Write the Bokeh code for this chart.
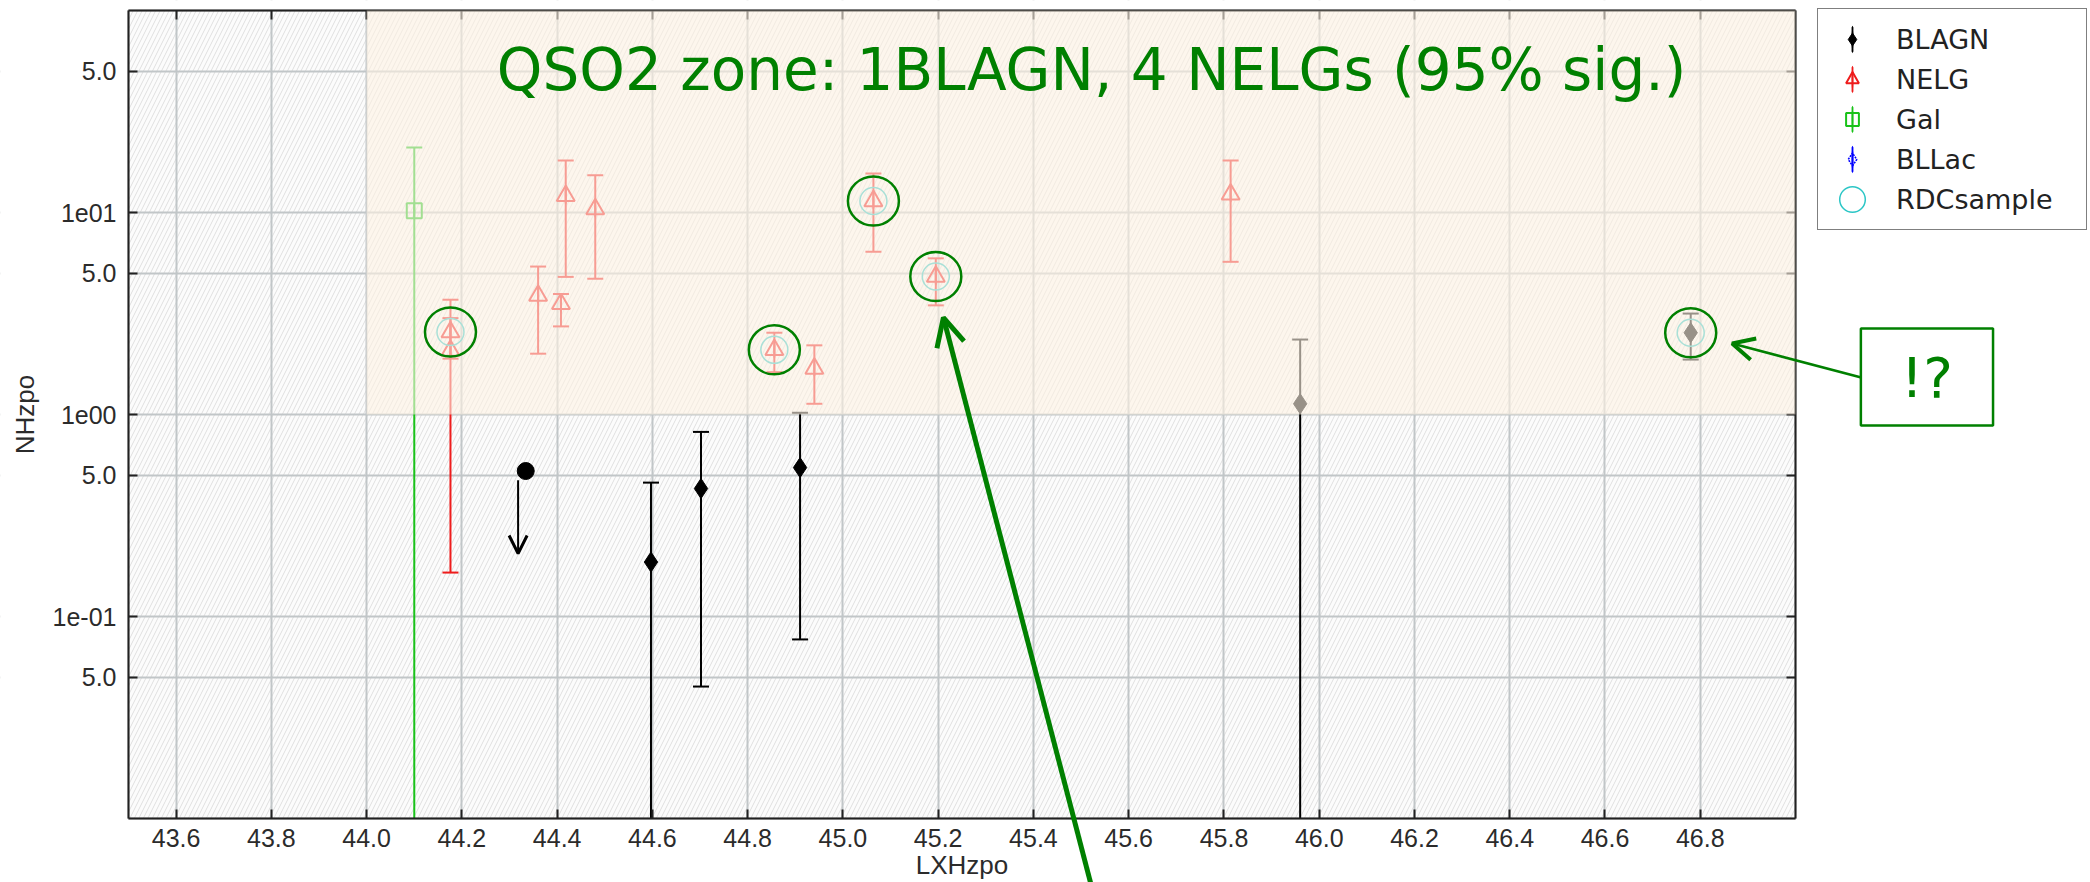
import numpy as np
from bokeh.plotting import figure
from bokeh.models import (Range1d, FixedTicker, PrintfTickFormatter, LinearAxis, LogAxis,
                          BoxAnnotation, Label, Arrow, OpenHead, Legend, LegendItem)
from bokeh.embed import file_html
from bokeh.resources import INLINE

# ---------------------------------------------------------------- data
# BLAGN: log X-ray luminosity, NH (1e22 cm^-2) and its error interval
blagn_lx = [44.597, 44.702, 44.910, 45.960, 46.780]
blagn_nh = [0.186, 0.43, 0.546, 1.13, 2.54]
blagn_lo = [1e-4, 0.045, 0.077, 1e-4, 1.87]
blagn_hi = [0.46, 0.82, 1.02, 2.35, 3.16]

# NELG
nelg_lx = [44.176, 44.176, 44.360, 44.408, 44.418, 44.480, 44.856, 44.940, 45.064, 45.195, 45.814]
nelg_nh = [2.56, 2.07, 3.88, 3.53, 12.1, 10.4, 2.09, 1.69, 11.4, 4.82, 12.3]
nelg_lo = [1.89, 0.165, 2.0, 2.73, 4.8, 4.7, 1.62, 1.13, 6.4, 3.47, 5.7]
nelg_hi = [3.7, 3.0, 5.4, 3.95, 18.1, 15.3, 2.54, 2.2, 15.6, 5.93, 18.1]

# Gal
gal_lx = [44.10]
gal_nh = [10.2]
gal_lo = [1e-4]
gal_hi = [21.0]

# BLLac: none in this sample
bllac_lx = []
bllac_nh = []

# RDC sample members (circled)
rdc_lx = [44.176, 44.856, 45.064, 45.195, 46.780]
rdc_nh = [2.56, 2.09, 11.4, 4.82, 2.54]

# BLAGN with an NH upper limit
ul_lx = [44.334]
ul_nh = [0.525]
ul_arrow_x = 44.318
ul_arrow_to = 0.205

# QSO2 zone boundaries
zone_lx_min = 44.0
zone_nh_min = 1.0

x_ticks = [43.6, 43.8, 44.0, 44.2, 44.4, 44.6, 44.8, 45.0, 45.2, 45.4, 45.6, 45.8,
           46.0, 46.2, 46.4, 46.6, 46.8]
y_ticks = [0.05, 0.1, 0.5, 1, 5, 10, 50]
y_tick_labels = ["5.0", "1e-01", "5.0", "1e00", "5.0", "1e01", "5.0"]

title_text = "QSO2 zone: 1BLAGN, 4 NELGs (95% sig.)"
title_pos = (45.522, 51.0)
note_text = "!?"
note_pos = (47.276, 1.533)
note_arrow = ((47.138, 1.524), (46.867, 2.245))
big_arrow = ((45.52, 0.0048), (45.211, 3.02))

# ---------------------------------------------------------------- layout
W, H = 2090, 882
X_MIN, X_MAX = 43.5, 47.0          # axis limits
Y_MIN, Y_MAX = 0.01, 100.0
M_LEFT, M_RIGHT, M_TOP, M_BOTTOM = 128, 295, 10, 64   # white space round the plot box
LEGEND_H = 220

GREEN = "#008000"
TICK_FONT = "Liberation Sans"
INK = "#222222"

# the frame fills the whole canvas; the plot box is a sub-region of it, so that
# call-outs, legend and arrows can sit in the white margins
px_x = (W - M_LEFT - M_RIGHT) / (X_MAX - X_MIN)
decades = np.log10(Y_MAX) - np.log10(Y_MIN)
px_y = (H - M_TOP - M_BOTTOM) / decades
x_range = Range1d(X_MIN - M_LEFT / px_x, X_MAX + M_RIGHT / px_x)
y_range = Range1d(10 ** (np.log10(Y_MIN) - M_BOTTOM / px_y),
                  10 ** (np.log10(Y_MAX) + M_TOP / px_y))

p = figure(width=W, height=H, x_range=x_range, y_range=y_range, y_axis_type="log",
           output_backend="svg", toolbar_location=None, title=None, min_border=0)
p.background_fill_color = "white"
p.border_fill_color = "white"
p.outline_line_color = None

xt = FixedTicker(ticks=x_ticks)
yt = FixedTicker(ticks=y_ticks)

# plot box background with faint diagonal hatching
p.add_layout(BoxAnnotation(left=X_MIN, right=X_MAX, bottom=Y_MIN, top=Y_MAX, level="image",
                           fill_color="#f7f7f7", line_alpha=0,
                           hatch_pattern="/", hatch_color="#e0e0e0",
                           hatch_weight=1, hatch_scale=9))

for g, t in ((p.xgrid, xt), (p.ygrid, yt)):
    g.ticker = t
    g.grid_line_color = "#c1c6c8"
    g.grid_line_width = 2

# white margins hide the grid outside the plot box
for kw in (dict(right=X_MIN), dict(left=X_MAX), dict(top=Y_MIN), dict(bottom=Y_MAX)):
    p.add_layout(BoxAnnotation(level="underlay", fill_color="white", fill_alpha=1,
                               line_alpha=0, **kw))


def style_axis(ax):
    ax.major_tick_in = 9
    ax.major_tick_out = 0
    ax.minor_tick_line_color = None
    ax.major_tick_line_width = 2
    ax.major_tick_line_color = INK
    ax.axis_line_color = INK
    ax.axis_line_width = 2


xa = p.xaxis[0]
xa.ticker = xt
xa.fixed_location = Y_MIN
xa.bounds = (X_MIN, X_MAX)
xa.formatter = PrintfTickFormatter(format="%.1f")
xa.axis_label = "LXHzpo"
ya = p.yaxis[0]
ya.ticker = yt
ya.fixed_location = X_MIN
ya.bounds = (Y_MIN, Y_MAX)
ya.major_label_overrides = {v: s for v, s in zip(y_ticks, y_tick_labels)}
ya.axis_label = "NHzpo"

for ax in (xa, ya):
    style_axis(ax)
    ax.major_label_text_font = TICK_FONT
    ax.major_label_text_font_size = "25px"
    ax.major_label_text_color = "#2b2b2b"
    ax.axis_label_text_font = TICK_FONT
    ax.axis_label_text_font_size = "26px"
    ax.axis_label_text_font_style = "normal"
    ax.axis_label_text_color = "#2b2b2b"
xa.major_label_standoff = 10
xa.axis_label_standoff = 0
ya.major_label_standoff = 12
ya.axis_label_standoff = 10

# mirrored tick marks on top and right (no labels)
top_ax = LinearAxis(ticker=xt, fixed_location=Y_MAX, bounds=(X_MIN, X_MAX),
                    major_label_overrides={v: "" for v in x_ticks})
right_ax = LogAxis(ticker=yt, fixed_location=X_MAX, bounds=(Y_MIN, Y_MAX),
                   major_label_overrides={v: "" for v in y_ticks})
for ax in (top_ax, right_ax):
    style_axis(ax)
p.add_layout(top_ax, "above")
p.add_layout(right_ax, "right")


# ---------------------------------------------------------------- error bars + markers
def error_bars(lx, nh, lo, hi, color):
    # bars that run past the axis limits stop at the plot edge, without a cap
    lo_c = [max(v, Y_MIN) for v in lo]
    hi_c = [min(v, Y_MAX) for v in hi]
    p.segment(x0=lx, y0=lo_c, x1=lx, y1=hi_c, line_color=color, line_width=2)
    cx = [x for x, v in zip(lx, lo) if v >= Y_MIN] + [x for x, v in zip(lx, hi) if v <= Y_MAX]
    cy = [v for v in lo if v >= Y_MIN] + [v for v in hi if v <= Y_MAX]
    p.scatter(x=cx, y=cy, marker="dash", size=16, line_color=color, line_width=2)
    # a hair-thin vertical sliver on the bar itself: it gives the legend
    # entry its vertical error-bar stroke
    return p.ellipse(x=lx, y=nh, width=0.16, height=16, width_units="screen",
                     height_units="screen", fill_alpha=0, line_color=color, line_width=2)


l_gal = error_bars(gal_lx, gal_nh, gal_lo, gal_hi, "#19c219")
l_nelg = error_bars(nelg_lx, nelg_nh, nelg_lo, nelg_hi, "#ee1c1c")
l_blagn = error_bars(blagn_lx, blagn_nh, blagn_lo, blagn_hi, "black")

r_gal = p.scatter(x=gal_lx, y=gal_nh, marker="square", size=15, fill_alpha=0,
                  line_color="#19c219", line_width=2)
r_nelg = p.scatter(x=nelg_lx, y=nelg_nh, marker="triangle", size=18, fill_alpha=0,
                   line_color="#ee1c1c", line_width=2)
r_blagn = p.scatter(x=blagn_lx, y=blagn_nh, marker="diamond", size=20, color="black")
r_bllac = p.scatter(x=bllac_lx, y=bllac_nh, marker="diamond", size=16, fill_alpha=0,
                    line_color="blue", line_width=1.5, line_dash="2 1")
r_rdc = p.ellipse(x=rdc_lx, y=rdc_nh, width=27, height=27, width_units="screen",
                  height_units="screen", fill_alpha=0, line_color="#2cc6c6", line_width=1.5)

# upper limit
p.scatter(x=ul_lx, y=ul_nh, marker="circle", size=17, color="black")
p.add_layout(Arrow(x_start=ul_arrow_x, y_start=ul_nh[0] * 0.9, x_end=ul_arrow_x, y_end=ul_arrow_to,
                   line_color="black", line_width=2,
                   end=OpenHead(size=18, line_color="black", line_width=3)))

# BLLac has no sources: its legend key is drawn from a placeholder that sits
# underneath the (opaque) legend box
leg_x = [X_MAX + (M_RIGHT / 2) / px_x]
leg_y = [10 ** (np.log10(Y_MAX) - (LEGEND_H / 2) / px_y)]
l_bllac = p.ellipse(x=leg_x, y=leg_y, width=0.16, height=16, width_units="screen",
                    height_units="screen", fill_alpha=0, line_color="blue", line_width=2)
l_bllac_m = p.scatter(x=leg_x, y=leg_y, marker="diamond", fill_alpha=0,
                      line_color="blue", line_width=1.5, line_dash="2 1", visible=False)

# ---------------------------------------------------------------- QSO2 zone
p.add_layout(BoxAnnotation(left=zone_lx_min, right=X_MAX, bottom=zone_nh_min, top=Y_MAX,
                           fill_color="#fdf1e2", fill_alpha=0.6, line_alpha=0))

# plot box border on top of the zone shading
p.add_layout(BoxAnnotation(left=X_MIN, right=X_MAX, bottom=Y_MIN, top=Y_MAX, fill_alpha=0,
                           line_color=INK, line_width=2))

p.ellipse(x=rdc_lx, y=rdc_nh, width=51, height=49, width_units="screen",
          height_units="screen", fill_alpha=0, line_color=GREEN, line_width=2.5,
          level="overlay")

p.add_layout(Label(x=title_pos[0], y=title_pos[1], text=title_text, text_align="center",
                   text_baseline="alphabetic", text_font="DejaVu Sans",
                   text_font_size="58px", text_color=GREEN))

p.add_layout(Arrow(x_start=big_arrow[0][0], y_start=big_arrow[0][1],
                   x_end=big_arrow[1][0], y_end=big_arrow[1][1],
                   line_color=GREEN, line_width=5,
                   end=OpenHead(size=28, line_color=GREEN, line_width=5)))

p.add_layout(Arrow(x_start=note_arrow[0][0], y_start=note_arrow[0][1],
                   x_end=note_arrow[1][0], y_end=note_arrow[1][1],
                   line_color=GREEN, line_width=2.5,
                   end=OpenHead(size=22, line_color=GREEN, line_width=4)))

p.add_layout(Label(x=note_pos[0], y=note_pos[1], text=note_text, text_align="center",
                   text_baseline="middle", text_font="DejaVu Sans", text_font_size="56px",
                   text_color=GREEN, border_line_color=GREEN, border_line_width=2.5,
                   background_fill_color="white", padding=(40, 16)))

# ---------------------------------------------------------------- legend
legend = Legend(items=[
    LegendItem(label="BLAGN", renderers=[l_blagn, r_blagn]),
    LegendItem(label="NELG", renderers=[l_nelg, r_nelg]),
    LegendItem(label="Gal", renderers=[l_gal, r_gal]),
    LegendItem(label="BLLac", renderers=[l_bllac, l_bllac_m]),
    LegendItem(label="RDCsample", renderers=[r_rdc]),
], location=(W - M_RIGHT + 22, H - M_TOP - LEGEND_H), border_line_color="black",
    border_line_width=1.5, background_fill_color="white", background_fill_alpha=1,
    padding=14, spacing=8, glyph_height=32, glyph_width=40, label_standoff=24,
    label_width=176, label_height=32, label_text_font="DejaVu Sans",
    label_text_font_size="27px", label_text_color="#222222", margin=0,
    inactive_fill_alpha=0)
p.add_layout(legend)

open("out.html", "w").write(file_html(p, INLINE))
